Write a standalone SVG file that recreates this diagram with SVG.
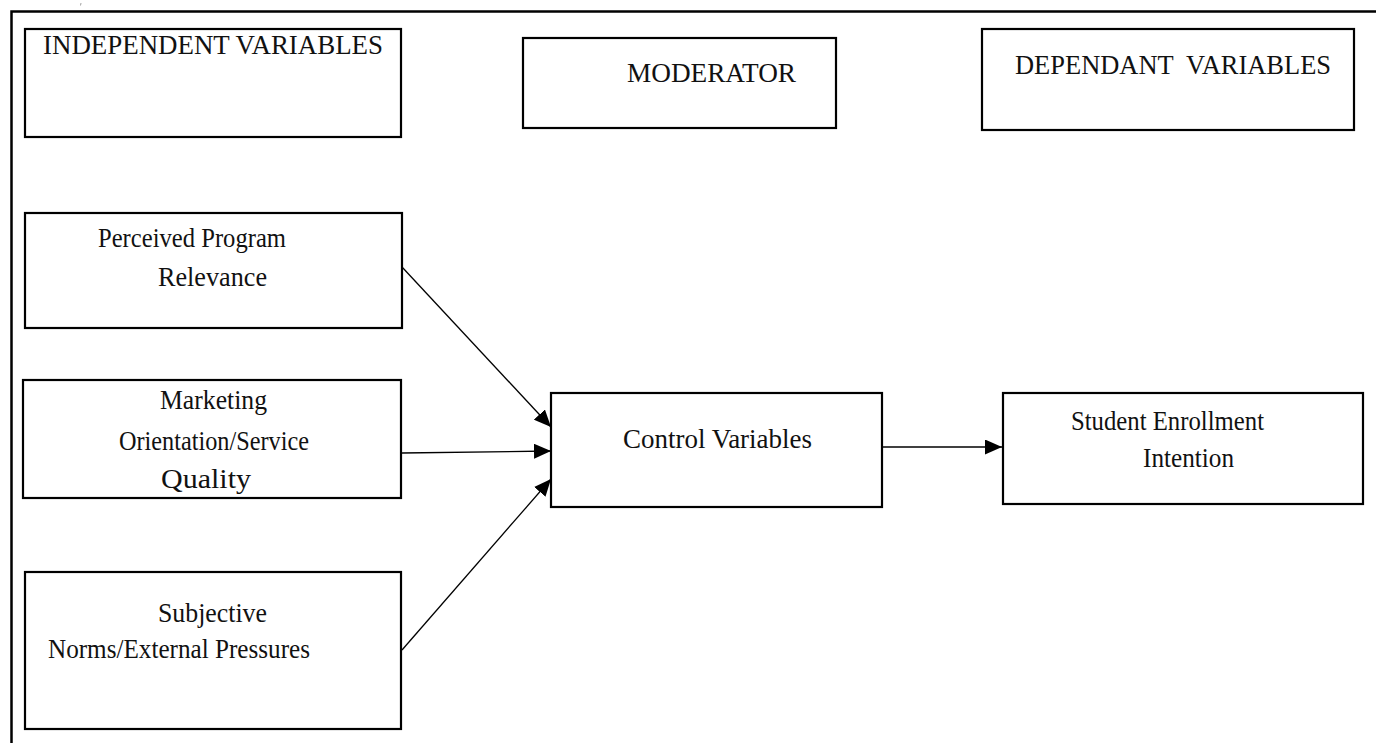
<svg xmlns="http://www.w3.org/2000/svg" width="1376" height="743" viewBox="0 0 1376 743">
<style>
.box{fill:#fff;stroke:#000;stroke-width:2.2}
.t{font-family:"Liberation Serif","Times New Roman",serif;font-size:28px;fill:#111}
.c{stroke:#000;stroke-width:1.3;fill:none}
</style>
<defs>
<marker id="ah" markerUnits="userSpaceOnUse" markerWidth="18" markerHeight="15" refX="17" refY="7.5" orient="auto">
<path d="M0,0 L17,7.5 L0,15 z" fill="#000"/>
</marker>
</defs>
<rect width="1376" height="743" fill="#fff"/>
<g id="frame">
<path d="M11.5,743 L11.5,11.5 L1376,11.5" fill="none" stroke="#000" stroke-width="2.5"/>
<path d="M81,3 L80.5,5.5" stroke="#888" stroke-width="0.8"/>
</g>
<g id="n-independent">
<rect class="box" x="25" y="29" width="376" height="108"/>
<text class="t" x="43" y="54" textLength="340" lengthAdjust="spacingAndGlyphs">INDEPENDENT VARIABLES</text>
</g>
<g id="n-moderator">
<rect class="box" x="523" y="38" width="313" height="90"/>
<text class="t" x="627" y="82" textLength="169" lengthAdjust="spacingAndGlyphs">MODERATOR</text>
</g>
<g id="n-dependant">
<rect class="box" x="982" y="29" width="372" height="101"/>
<text class="t" x="1015" y="74" textLength="316" lengthAdjust="spacingAndGlyphs" xml:space="preserve">DEPENDANT  VARIABLES</text>
</g>
<g id="n-perceived">
<rect class="box" x="25" y="213" width="377" height="115"/>
<text class="t" x="98" y="247" textLength="188" lengthAdjust="spacingAndGlyphs">Perceived Program</text>
<text class="t" x="158" y="286" textLength="109" lengthAdjust="spacingAndGlyphs">Relevance</text>
</g>
<g id="n-marketing">
<rect class="box" x="23" y="380" width="378" height="118"/>
<text class="t" x="160" y="409" textLength="107" lengthAdjust="spacingAndGlyphs">Marketing</text>
<text class="t" x="119" y="450" textLength="190" lengthAdjust="spacingAndGlyphs">Orientation/Service</text>
<text class="t" x="161" y="488" textLength="90" lengthAdjust="spacingAndGlyphs">Quality</text>
</g>
<g id="n-subjective">
<rect class="box" x="25" y="572" width="376" height="157"/>
<text class="t" x="158" y="622" textLength="109" lengthAdjust="spacingAndGlyphs">Subjective</text>
<text class="t" x="48" y="658" textLength="262" lengthAdjust="spacingAndGlyphs">Norms/External Pressures</text>
</g>
<g id="n-control">
<rect class="box" x="551" y="393" width="331" height="114"/>
<text class="t" x="623" y="448" textLength="189" lengthAdjust="spacingAndGlyphs">Control Variables</text>
</g>
<g id="n-student">
<rect class="box" x="1003" y="393" width="360" height="111"/>
<text class="t" x="1071" y="430" textLength="193" lengthAdjust="spacingAndGlyphs">Student Enrollment</text>
<text class="t" x="1143" y="467" textLength="91" lengthAdjust="spacingAndGlyphs">Intention</text>
</g>
<g id="connectors">
<path class="c" d="M402,267 L551,427" marker-end="url(#ah)"/>
<path class="c" d="M402,453 L551,451" marker-end="url(#ah)"/>
<path class="c" d="M402,650 L551,479" marker-end="url(#ah)"/>
<path class="c" d="M883,447 L1002,447" marker-end="url(#ah)"/>
</g>
</svg>
